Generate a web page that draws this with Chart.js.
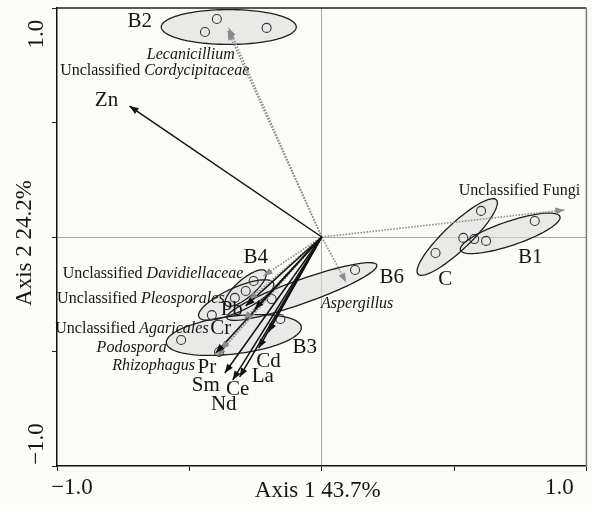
<!DOCTYPE html>
<html>
<head>
<meta charset="utf-8">
<script src="https://cdn.jsdelivr.net/npm/chart.js@4.4.1/dist/chart.umd.min.js"></script>
<style>
  html, body { margin: 0; padding: 0; background: #fbfbf8; }
  #wrap { width: 592px; height: 505px; }
</style>
</head>
<body>
<div id="wrap"><canvas id="rda" width="592" height="505"></canvas></div>
<script>
// sample scores on axis 1 / axis 2
var groupNames = ['B1', 'B2', 'B3', 'B4', 'B5', 'B6', 'C'];
var groupX = [
    [0.805, 0.621, 0.576],
    [-0.396, -0.441, -0.208],
    [-0.531, -0.388, -0.156],
    [-0.257, -0.287, -0.328],
    [-0.415],
    [0.126, -0.189],
    [0.602, 0.430, 0.535]
];
var groupY = [
    [0.070, -0.017, -0.009],
    [0.952, 0.895, 0.913],
    [-0.450, -0.502, -0.358],
    [-0.192, -0.236, -0.266],
    [-0.341],
    [-0.144, -0.271],
    [0.114, -0.070, -0.004]
];

// group ellipses: centre, major half-axis vector, minor half-axis vector (axis units)
var ellCX = [0.712, -0.351, -0.332, -0.287, -0.323, -0.075, 0.512];
var ellCY = [0.016, 0.917, -0.428, -0.223, -0.275, -0.238, 0.000];
var ellAX = [0.188, 0.255, 0.255, 0.075, 0.141, 0.283, 0.148];
var ellAY = [0.073, 0.000, 0.035, 0.074, 0.074, 0.116, 0.162];
var ellBX = [0.014, 0.000, 0.008, 0.022, 0.019, 0.015, 0.033];
var ellBY = [-0.050, 0.076, -0.082, -0.030, -0.048, -0.049, -0.042];

// environmental variables (arrow tips)
var envNames = ['Zn', 'Pb', 'Cr', 'Pr', 'Sm', 'Nd', 'Ce', 'La', 'Cd'];
var envX = [-0.726, -0.287, -0.253, -0.400, -0.366, -0.336, -0.310, -0.238, -0.201];
var envY = [0.572, -0.301, -0.314, -0.507, -0.594, -0.624, -0.611, -0.485, -0.415];

// fungal taxa (arrow tips); name = plain part + italic part
var taxaPlain = ['', 'Unclassified ', 'Unclassified Fungi', '', 'Unclassified ', 'Unclassified ', 'Unclassified ', '', ''];
var taxaItalic = ['Lecanicillium', 'Cordycipitaceae', '', 'Aspergillus', 'Davidiellaceae', 'Pleosporales', 'Agaricales', 'Podospora', 'Rhizophagus'];
var taxaX = [-0.351, -0.355, 0.917, 0.092, -0.220, -0.276, -0.295, -0.381, -0.396];
var taxaY = [0.913, 0.900, 0.118, -0.197, -0.170, -0.275, -0.362, -0.493, -0.520];

var axisTicks = [-1.0, 1.0];
var axisTitleX = 'Axis 1 43.7%';
var axisTitleY = 'Axis 2 24.2%';

// label placement (pixel offsets from the mark)
var groupLabelOff = [[20, 24], [-89, -6], [71, 12], [10, -31], null, [90, -14], [-12, 42]];
var envLabelOff = [[-23, -6], [-14, 4], [-34, 20], [-9, 14], [-19, 12], [-9, 25], [-2, 13], [4, 28], [0, 29]];
var taxaLabelOff = [[-38, 27, 'center'], [-73, 40, 'center'], [-45, -19, 'center'], [-25, 22, 'left'],
    [-20, -2, 'right'], [-24, -1, 'right'], [-35, 9, 'right'], [-54, -2, 'right'], [-22, 10, 'right']];

var SERIF = '"Liberation Serif", "Times New Roman", serif';

function arrowSet(xs, ys, color, dash, order) {
    return xs.map(function (x, i) {
        return {
            type: 'scatter', showLine: true, order: order,
            data: [{ x: 0, y: 0 }, { x: x, y: ys[i] }],
            borderColor: color, borderWidth: dash ? 1.6 : 1.5, borderDash: dash || [],
            pointRadius: 0, pointHoverRadius: 0, tension: 0, clip: false
        };
    });
}

function drawHead(ctx, x0, y0, x1, y1, color, len, half) {
    var a = Math.atan2(y1 - y0, x1 - x0);
    ctx.save();
    ctx.fillStyle = color;
    ctx.beginPath();
    ctx.moveTo(x1, y1);
    ctx.lineTo(x1 - len * Math.cos(a) + half * Math.sin(a), y1 - len * Math.sin(a) - half * Math.cos(a));
    ctx.lineTo(x1 - len * Math.cos(a) - half * Math.sin(a), y1 - len * Math.sin(a) + half * Math.cos(a));
    ctx.closePath();
    ctx.fill();
    ctx.restore();
}

function drawRich(ctx, plain, italic, x, y, align, size) {
    ctx.font = size + 'px ' + SERIF;
    var w1 = ctx.measureText(plain).width;
    ctx.font = 'italic ' + size + 'px ' + SERIF;
    var w2 = ctx.measureText(italic).width;
    var start = align === 'right' ? x - w1 - w2 : align === 'center' ? x - (w1 + w2) / 2 : x;
    ctx.textAlign = 'left';
    ctx.textBaseline = 'middle';
    ctx.font = size + 'px ' + SERIF;
    ctx.fillText(plain, start, y);
    ctx.font = 'italic ' + size + 'px ' + SERIF;
    ctx.fillText(italic, start + w1, y);
}

var rdaDecor = {
    id: 'rdaDecor',
    beforeDatasetsDraw: function (chart) {
        var ctx = chart.ctx, xs = chart.scales.x, ys = chart.scales.y;
        var paths = ellCX.map(function (cx, i) {
            var p = new Path2D();
            for (var k = 0; k <= 96; k++) {
                var t = k / 96 * Math.PI * 2;
                var vx = cx + ellAX[i] * Math.cos(t) + ellBX[i] * Math.sin(t);
                var vy = ellCY[i] + ellAY[i] * Math.cos(t) + ellBY[i] * Math.sin(t);
                var px = xs.getPixelForValue(vx), py = ys.getPixelForValue(vy);
                if (k === 0) p.moveTo(px, py); else p.lineTo(px, py);
            }
            p.closePath();
            return p;
        });
        ctx.save();
        ctx.fillStyle = 'rgba(222,222,220,0.6)';
        paths.forEach(function (p) { ctx.fill(p); });
        ctx.strokeStyle = '#1e1e1e';
        ctx.lineWidth = 1.3;
        paths.forEach(function (p) { ctx.stroke(p); });
        ctx.restore();
    },
    afterDatasetsDraw: function (chart) {
        var ctx = chart.ctx, xs = chart.scales.x, ys = chart.scales.y, ca = chart.chartArea;
        var ox = xs.getPixelForValue(0), oy = ys.getPixelForValue(0);

        taxaX.forEach(function (x, i) {
            drawHead(ctx, ox, oy, xs.getPixelForValue(x), ys.getPixelForValue(taxaY[i]), '#8a8a8a', 9, 3.5);
        });
        envX.forEach(function (x, i) {
            drawHead(ctx, ox, oy, xs.getPixelForValue(x), ys.getPixelForValue(envY[i]), '#111', 9, 3.5);
        });

        ctx.save();
        ctx.fillStyle = '#151515';
        ctx.textAlign = 'center';
        ctx.textBaseline = 'middle';
        ctx.font = '21px ' + SERIF;
        envNames.forEach(function (n, i) {
            var o = envLabelOff[i];
            ctx.fillText(n, xs.getPixelForValue(envX[i]) + o[0], ys.getPixelForValue(envY[i]) + o[1]);
        });
        groupNames.forEach(function (n, i) {
            var o = groupLabelOff[i];
            if (!o) return;
            ctx.fillText(n, xs.getPixelForValue(ellCX[i]) + o[0], ys.getPixelForValue(ellCY[i]) + o[1]);
        });
        taxaPlain.forEach(function (p, i) {
            var o = taxaLabelOff[i];
            drawRich(ctx, p, taxaItalic[i], xs.getPixelForValue(taxaX[i]) + o[0], ys.getPixelForValue(taxaY[i]) + o[1], o[2], 16);
        });

        // top and right frame
        ctx.strokeStyle = '#222';
        ctx.lineWidth = 1.5;
        ctx.beginPath();
        ctx.moveTo(ca.left, ca.top);
        ctx.lineTo(ca.right, ca.top);
        ctx.stroke();
        ctx.strokeStyle = '#7a7a7a';
        ctx.beginPath();
        ctx.moveTo(ca.right, ca.top);
        ctx.lineTo(ca.right, ca.bottom);
        ctx.stroke();

        // end tick labels, kept inside the axis span
        ctx.font = '23px ' + SERIF;
        ctx.textAlign = 'center';
        ctx.fillText('\u2212' + axisTicks[1].toFixed(1), xs.getPixelForValue(axisTicks[0]) + 15, ca.bottom + 22);
        ctx.fillText(axisTicks[1].toFixed(1), xs.getPixelForValue(axisTicks[1]) - 27, ca.bottom + 22);
        ctx.fillText(axisTitleX, (ca.left + ca.right) / 2 - 4, ca.bottom + 25);

        ctx.save();
        ctx.translate(ca.left - 20, ys.getPixelForValue(axisTicks[1]) + 26);
        ctx.rotate(-Math.PI / 2);
        ctx.fillText(axisTicks[1].toFixed(1), 0, 0);
        ctx.restore();
        ctx.save();
        ctx.translate(ca.left - 20, ys.getPixelForValue(axisTicks[0]) - 22);
        ctx.rotate(-Math.PI / 2);
        ctx.fillText('\u2212' + axisTicks[1].toFixed(1), 0, 0);
        ctx.restore();
        ctx.save();
        ctx.translate(ca.left - 32, (ca.top + ca.bottom) / 2 + 6);
        ctx.rotate(-Math.PI / 2);
        ctx.fillText(axisTitleY, 0, 0);
        ctx.restore();
        ctx.restore();
    }
};

var datasets = [];
groupNames.forEach(function (g, i) {
    datasets.push({
        type: 'scatter', label: g, order: 3,
        data: groupX[i].map(function (x, k) { return { x: x, y: groupY[i][k] }; }),
        pointRadius: 4.5, pointBorderWidth: 1.1, pointBorderColor: '#333', pointBackgroundColor: 'rgba(0,0,0,0)'
    });
});
datasets = datasets.concat(arrowSet(taxaX, taxaY, '#8f8f8f', [1.6, 1.4], 2));
datasets = datasets.concat(arrowSet(envX, envY, '#111', null, 1));

function zeroLine(c) { return c.tick && c.tick.value === 0 ? '#a8a8a8' : 'rgba(0,0,0,0)'; }

var chart = new Chart(document.getElementById('rda'), {
    type: 'scatter',
    data: { datasets: datasets },
    options: {
        responsive: false, animation: false,
        layout: { padding: { left: 52, right: 0, top: 8, bottom: 34 } },
        plugins: { legend: { display: false }, tooltip: { enabled: false } },
        scales: {
            x: {
                type: 'linear', min: -1, max: 1,
                ticks: { stepSize: 0.5, display: false },
                grid: { color: zeroLine, tickColor: '#222', tickLength: 5, lineWidth: 1 },
                border: { color: '#111', width: 1.5 },
                afterFit: function (s) { s.paddingRight = 0; }
            },
            y: {
                type: 'linear', min: -1, max: 1,
                ticks: { stepSize: 0.5, display: false },
                grid: { color: zeroLine, tickColor: '#222', tickLength: 5, lineWidth: 1 },
                border: { color: '#111', width: 1.5 }
            }
        }
    },
    plugins: [rdaDecor]
});
</script>
</body>
</html>
